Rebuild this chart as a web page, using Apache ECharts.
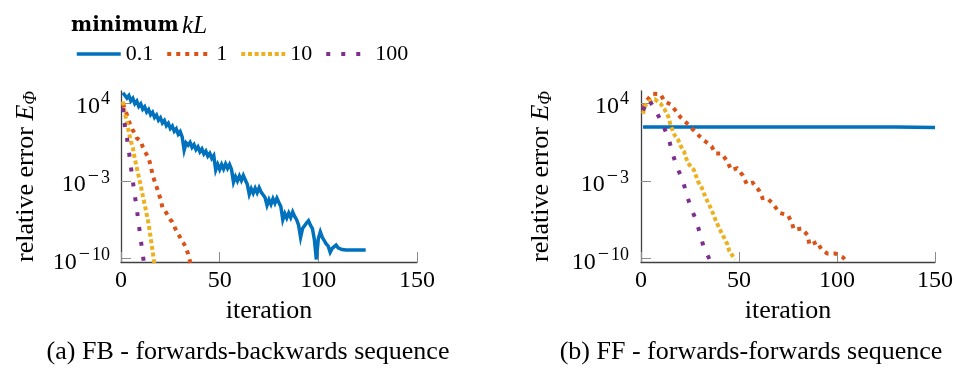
<!DOCTYPE html>
<html>
<head>
<meta charset="utf-8">
<script src="https://cdn.jsdelivr.net/npm/echarts@6/dist/echarts.min.js"></script>
<style>
html,body{margin:0;padding:0;background:#fff;}
#c{width:956px;height:371px;}
</style>
</head>
<body>
<div id="c"></div>
<script>
// ---- data (y values are log10 of the relative error E_Phi) ----
const seriesNames = ['0.1', '1', '10', '100'];
const xTicks = [0, 50, 100, 150];
const yTickExps = [-10, -3, 4];

// (a) FB, kL = 0.1 : one value per iteration, iterations 1..124
const fbErr01 = [
  5.0, 4.98, 4.50, 4.73, 4.25, 4.48, 4.00, 4.23, 3.75, 3.98,
  3.50, 3.73, 3.25, 3.48, 3.00, 3.23, 2.75, 2.98, 2.50, 2.73,
  2.25, 2.48, 2.00, 2.23, 1.75, 1.98, 1.50, 1.73, 1.25, 1.48,
  1.0, -0.2, 0.45, 0.25, 0.5, 0.05, 0.3, -0.15, 0.1, -0.35,
  -0.1, -0.55, -0.3, -0.75, -0.5, -0.95, -0.7, -2.0, -1.5, -1.95,
  -1.5, -1.9, -1.45, -1.85, -1.5, -1.95, -3.1, -2.6, -3.0, -2.55,
  -2.95, -2.5, -2.9, -3.3, -4.2, -3.7, -4.1, -3.65, -4.05, -3.6,
  -4.0, -3.85, -4.5, -5.2, -4.7, -5.1, -4.6, -5.0, -4.55, -4.95,
  -5.3, -6.5, -5.95, -6.35, -5.9, -6.3, -5.8, -6.2, -6.5, -7.0,
  -8.1, -7.3, -7.4, -6.8, -6.6, -7.0, -7.3, -8.3, -10.1, -8.2,
  -7.6, -8.1, -8.2, -8.7, -8.9, -9.45, -9.1, -9.2, -8.8, -9.05,
  -9.0, -9.2, -9.1, -9.25, -9.25, -9.25, -9.25, -9.25, -9.25, -9.25,
  -9.25, -9.25, -9.25, -9.25
];
// (a) FB, kL = 1
const fbIter1 = [1, 2, 3, 4, 5, 6, 7, 8, 9, 10, 11, 12, 13, 14, 15, 16, 17, 18, 19, 20, 21, 22, 23, 24, 25, 26, 27, 28, 29, 30, 31, 32, 33, 34, 35, 36];
const fbErr1  = [4.0, 3.9, 3.0, 2.4, 2.0, 1.6, 1.3, 0.9, 1.0, 0.6, 0.1, -0.3, -0.6, -0.9, -1.6, -2.4, -3.0, -3.5, -4.1, -4.6, -5.4, -5.6, -5.7, -6.2, -6.5, -6.7, -7.1, -7.5, -7.8, -8.1, -8.5, -8.7, -9.1, -9.6, -10.3, -10.9];
// (a) FB, kL = 10
const fbIter10 = [1, 2, 3, 4, 5, 6, 7, 8, 9, 10, 11, 12, 13, 14, 15, 16, 17];
const fbErr10  = [4.2, 3.1, 2.3, 1.4, 0.6, 0.0, -1.0, -1.8, -2.6, -3.4, -4.3, -5.1, -6.0, -6.9, -8.1, -9.3, -10.6];
// (a) FB, kL = 100
const fbIter100 = [1, 2, 3, 4, 5, 6, 7, 8, 9, 10, 11, 12];
const fbErr100  = [3.6, 1.9, 0.9, -0.3, -1.7, -3.0, -4.3, -5.5, -6.9, -8.3, -9.6, -10.9];

// (b) FF, kL = 0.1
const ffIter01 = [1, 50, 100, 130, 150];
const ffErr01  = [1.9, 1.9, 1.9, 1.88, 1.85];
// (b) FF, kL = 1
const ffIter1 = [1, 3, 6, 10, 12, 15, 18, 20, 23, 26, 29, 32, 36, 38, 41, 44, 46, 49, 52, 54, 57, 60, 62, 64, 67, 70, 71, 75, 77, 78, 82, 85, 86, 90, 92, 95, 99, 103, 104];
const ffErr1  = [3.6, 4.3, 4.9, 4.85, 4.2, 3.95, 3.3, 2.8, 2.3, 1.75, 1.2, 0.7, 0.15, -0.5, -0.5, -1.2, -2.0, -1.85, -2.5, -3.3, -3.15, -3.8, -4.55, -4.5, -5.0, -5.7, -5.9, -6.1, -6.8, -7.4, -7.3, -7.9, -8.8, -8.5, -9.2, -9.55, -9.55, -9.9, -10.1];
// (b) FF, kL = 10
const ffIter10 = [1, 2, 4, 7, 10, 12, 14, 15, 17, 19, 20, 22, 23, 24, 27, 29, 31, 33, 36, 38, 40, 42, 44, 45, 47, 48];
const ffErr10  = [3.1, 3.8, 4.2, 4.4, 4.0, 3.5, 2.8, 2.1, 1.2, 0.7, 0.25, -0.35, -0.9, -1.4, -2.0, -3.0, -3.6, -4.5, -5.6, -6.5, -7.3, -8.0, -8.7, -9.3, -9.85, -10.1];
// (b) FF, kL = 100
const ffIter100 = [1, 4, 8, 11, 14, 16, 18, 21, 23, 25, 28, 30, 32, 35, 36];
const ffErr100  = [3.4, 4.4, 3.2, 2.15, 0.9, -0.4, -1.6, -2.8, -4.0, -5.2, -6.5, -7.7, -9.0, -10.1, -10.5];

// ---- styling ----
const colors = ['#0072BD', '#D95319', '#EDB120', '#7E2F8E'];
const dashes = ['solid', [4, 5], [4, 2.7], [4, 11]];
const widths = [3.5, 4, 4, 4];
const SERIF = '"Liberation Serif", "DejaVu Serif", serif';

function pairs(xs, ys) { return xs.map((x, i) => [x, ys[i]]); }
const fbData = [
  pairs(fbErr01.map((_, i) => i + 1), fbErr01),
  pairs(fbIter1, fbErr1),
  pairs(fbIter10, fbErr10),
  pairs(fbIter100, fbErr100)
];
const ffData = [
  pairs(ffIter01, ffErr01),
  pairs(ffIter1, ffErr1),
  pairs(ffIter10, ffErr10),
  pairs(ffIter100, ffErr100)
];

function mkX(idx) {
  return {
    type: 'value', gridIndex: idx, min: 0, max: 150, interval: 50,
    name: 'iteration', nameLocation: 'middle', nameGap: 36,
    nameTextStyle: { fontFamily: SERIF, fontSize: 26, color: '#000' },
    axisLine: { show: true, onZero: false, lineStyle: { color: '#404040', width: 1.3 } },
    axisTick: { show: true, inside: true, length: 10, lineStyle: { color: '#8c8c8c', width: 1 } },
    axisLabel: { fontFamily: SERIF, fontSize: 24, color: '#000', margin: 7,
      customValues: xTicks },
    splitLine: { show: false }
  };
}
function expLabel(v) {
  if (v < 0) return '{b|10}{m|\u2212}{s|' + (-v) + '}';
  return '{b|10}{s|' + v + '}';
}
function mkY(idx, gap, lm) {
  return {
    type: 'value', gridIndex: idx, min: -10.33, max: 5.15,
    name: '{r|relative error }{e|E}{p|Φ}', nameLocation: 'middle', nameGap: gap, nameRotate: 90,
    nameTextStyle: {
      rich: {
        r: { fontFamily: SERIF, fontSize: 26, color: '#000' },
        e: { fontFamily: SERIF, fontSize: 26, fontStyle: 'italic', color: '#000' },
        p: { fontFamily: SERIF, fontSize: 18, fontStyle: 'italic', color: '#000', padding: [10, 0, 0, 0] }
      }
    },
    axisLine: { show: true, onZero: false, lineStyle: { color: '#404040', width: 1.3 } },
    axisTick: { show: true, inside: true, length: 10, customValues: yTickExps,
      lineStyle: { color: '#8c8c8c', width: 1 } },
    axisLabel: {
      customValues: yTickExps, margin: lm, padding: [2, 0, 0, 0],
      formatter: expLabel,
      rich: {
        b: { fontFamily: SERIF, fontSize: 24, color: '#000', verticalAlign: 'bottom' },
        m: { fontFamily: SERIF, fontSize: 20, color: '#000', verticalAlign: 'bottom', padding: [0, 1, 10, 2] },
        s: { fontFamily: SERIF, fontSize: 18, color: '#000', verticalAlign: 'bottom', padding: [0, 0, 10, 1] }
      }
    },
    splitLine: { show: false }
  };
}

const series = [];
[fbData, ffData].forEach((set, g) => {
  set.forEach((d, k) => {
    series.push({
      name: seriesNames[k], type: 'line', xAxisIndex: g, yAxisIndex: g,
      data: d, symbol: 'none', showSymbol: false, clip: true, z: 2 + k,
      lineStyle: { color: colors[k], width: widths[k], type: dashes[k], cap: 'butt', join: 'miter' },
      itemStyle: { color: colors[k] },
      emphasis: { disabled: true }, animation: false
    });
  });
});

const chart = echarts.init(document.getElementById('c'), null, { renderer: 'canvas' });
chart.setOption({
  animation: false,
  backgroundColor: '#fff',
  grid: [
    { left: 121, top: 91, width: 296, height: 171 },
    { left: 641, top: 91, width: 297, height: 171 }
  ],
  xAxis: [mkX(0), mkX(1)],
  yAxis: [mkY(0, 81, 11), mkY(1, 86, 12)],
  legend: {
    left: 70, top: 38, itemWidth: 44, itemHeight: 14, itemGap: 12,
    data: seriesNames.map((n, k) => ({ name: n, lineStyle: { width: widths[k] } })),
    itemStyle: { opacity: 0, borderWidth: 0 },
    lineStyle: { width: 4 },
    textStyle: { fontFamily: SERIF, fontSize: 22, color: '#000' },
    selectedMode: false
  },
  graphic: [
    { type: 'text', x: 71, y: 26, style: {
        text: '{b|minimum} {i|kL}', verticalAlign: 'middle',
        rich: {
          b: { fontFamily: '"DejaVu Serif", serif', fontSize: 20, fontWeight: 'bold', color: '#000' },
          i: { fontFamily: SERIF, fontSize: 25, fontStyle: 'italic', color: '#000' }
        } } },
    { type: 'text', x: 248, y: 352, style: { text: '(a) FB - forwards-backwards sequence',
        fontFamily: SERIF, fontSize: 26, fill: '#000', align: 'center', verticalAlign: 'middle' } },
    { type: 'text', x: 751, y: 352, style: { text: '(b) FF - forwards-forwards sequence',
        fontFamily: SERIF, fontSize: 26, fill: '#000', align: 'center', verticalAlign: 'middle' } }
  ],
  series: series
});
</script>
</body>
</html>
